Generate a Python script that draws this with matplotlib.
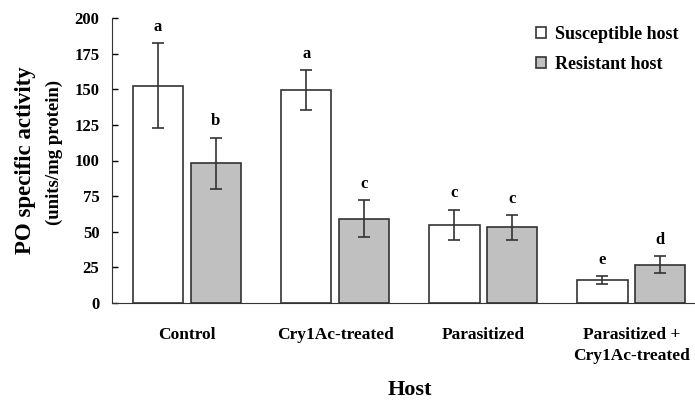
import numpy as np
import matplotlib
matplotlib.use('Agg')
import matplotlib.pyplot as plt

plt.rcParams['font.family'] = ['Liberation Serif', 'DejaVu Serif']
plt.rcParams['font.weight'] = 'bold'

groups = ['Control', 'Cry1Ac-treated', 'Parasitized', 'Parasitized +\nCry1Ac-treated']
susceptible = [152.5, 149.5, 55, 16]
susceptible_err = [30, 14, 10.5, 2.8]
resistant = [98, 59, 53, 27]
resistant_err = [18, 13, 8.5, 6]
susceptible_letters = ['a', 'a', 'c', 'e']
resistant_letters = ['b', 'c', 'c', 'd']
yticks = [0, 25, 50, 75, 100, 125, 150, 175, 200]

fig = plt.figure(figsize=(6.95, 4.0), dpi=100)
ax = fig.add_axes([0.161, 0.2425, 0.839, 0.7125])

x = np.arange(len(groups))
w = 0.34
off = 0.195
edge = '#333333'

ax.bar(x - off, susceptible, w, color='white', edgecolor=edge, linewidth=1.2,
       label='Susceptible host', zorder=2)
ax.bar(x + off, resistant, w, color='#c0c0c0', edgecolor=edge, linewidth=1.2,
       label='Resistant host', zorder=2)
ax.errorbar(x - off, susceptible, yerr=susceptible_err, fmt='none', ecolor=edge,
            elinewidth=1.2, capsize=4.3, capthick=1.2, zorder=3)
ax.errorbar(x + off, resistant, yerr=resistant_err, fmt='none', ecolor=edge,
            elinewidth=1.2, capsize=4.3, capthick=1.2, zorder=3)

# significance letters above the error bars
for i in range(len(groups)):
    ax.annotate(susceptible_letters[i], (x[i] - off, susceptible[i] + susceptible_err[i]),
                xytext=(0, 6), textcoords='offset points', ha='center', va='bottom',
                fontsize=12, fontweight='bold')
    ax.annotate(resistant_letters[i], (x[i] + off, resistant[i] + resistant_err[i]),
                xytext=(0, 6), textcoords='offset points', ha='center', va='bottom',
                fontsize=12, fontweight='bold')

ax.set_xlim(-0.507, 3.43)
ax.set_ylim(0, 200)
ax.set_yticks(yticks)
ax.tick_params(axis='y', direction='in', length=4.5, width=1, labelsize=12, pad=9)
ax.set_xticks(x)
ax.set_xticklabels(groups, fontsize=12.5, fontweight='bold', linespacing=1.45)
ax.tick_params(axis='x', length=0, pad=17)
for lbl in ax.get_yticklabels():
    lbl.set_fontweight('bold')

ax.spines['top'].set_visible(False)
ax.spines['right'].set_visible(False)
ax.spines['left'].set_color(edge)
ax.spines['bottom'].set_color(edge)

fig.text(0.59, 0.025, 'Host', ha='center', va='center', fontsize=16, fontweight='bold')
fig.text(0.036, 0.6, 'PO specific activity', rotation=90, ha='center', va='center',
         fontsize=16.5, fontweight='bold')
fig.text(0.078, 0.62, '(units/mg protein)', rotation=90, ha='center', va='center',
         fontsize=13.5, fontweight='bold')

leg = ax.legend(loc='upper left', bbox_to_anchor=(536 / 695, 1 - 26 / 400),
                bbox_transform=fig.transFigure, frameon=False, borderpad=0,
                borderaxespad=0, fontsize=13, handlelength=0.55, handleheight=0.55,
                handletextpad=0.5, labelspacing=0.7)
for t in leg.get_texts():
    t.set_fontweight('bold')

fig.savefig('out.png', dpi=100)
